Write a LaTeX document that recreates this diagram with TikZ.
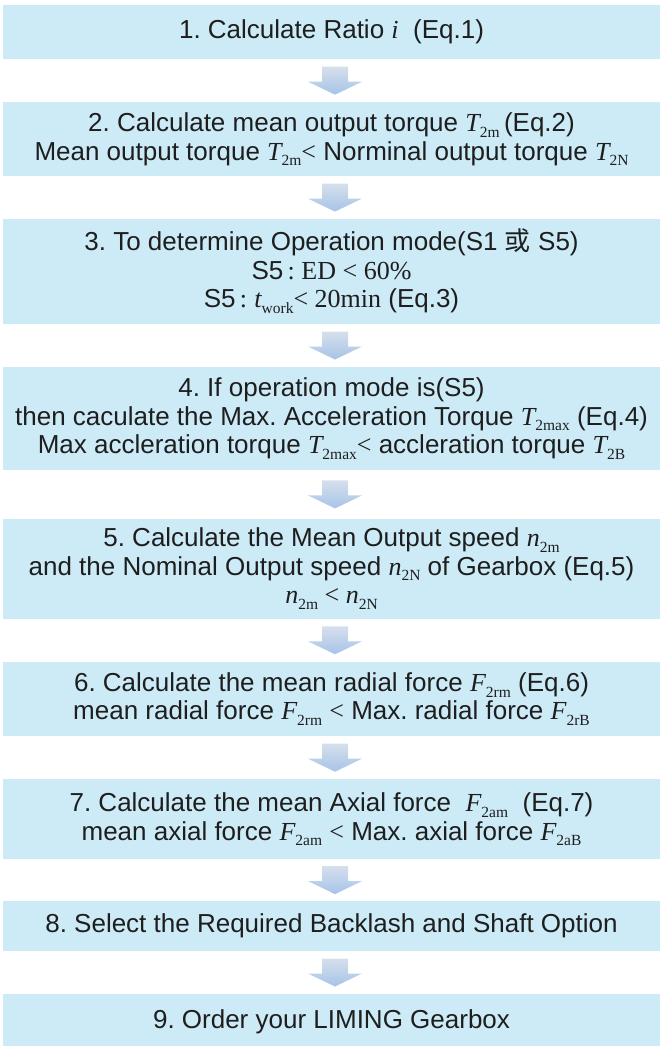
\documentclass[tikz,border=0pt]{standalone}
\usepackage{fontspec}
\setmainfont{Liberation Serif}
\setsansfont{Liberation Sans}
\newfontfamily\cjk{Noto Sans CJK SC}
\usepackage{tikz}
\usetikzlibrary{positioning,calc}
\frenchspacing

\definecolor{boxblue}{RGB}{205,235,247}
\definecolor{arrtop}{RGB}{214,223,236}
\definecolor{arrbot}{RGB}{166,196,232}
\definecolor{txt}{RGB}{30,30,30}

% variable with upright subscript, set in the serif face
\newcommand{\qsym}[2]{{\rmfamily\itshape #1}\raisebox{-0.22em}{\rmfamily\fontsize{15.5}{15.5}\selectfont #2}}
\newcommand{\rmtxt}[1]{{\rmfamily #1}}
\newcommand{\flowarrow}[2]{%
    \path let \p1=(#1.south), \p2=(#2.north) in (\x1+3.5pt,{0.5*(\y1+\y2)}) coordinate (am);
    \shade[arrowshade] (am) ++(-13,14) -- ++(26,0) -- ++(0,-15) -- ++(14,0)
        -- ++(-27,-13) -- ++(-27,13) -- ++(14,0) -- cycle;
}

\begin{document}
\begin{tikzpicture}[x=1pt,y=1pt,
    stage/.style={fill=boxblue,minimum width=657pt,minimum height=#1,inner sep=0pt,
        align=center,text=txt,font=\sffamily\fontsize{26}{28.5}\selectfont},
    stage/.default=54pt,
    arrowshade/.style={top color=arrtop,bottom color=arrbot}]
    \useasboundingbox (0,0) rectangle (660,-1046);

    \node[stage=54pt] (s1) at (331.5,-32) {1. Calculate Ratio \rmtxt{\itshape i}\ \ (Eq.1)};
    \node[stage=74pt,below=43pt of s1] (s2) {2. Calculate mean output torque \qsym{T}{2m}\,(Eq.2)\\
        Mean output torque \qsym{T}{2m}\rmtxt{<} Norminal output torque \qsym{T}{2N}};
    \node[stage=105pt,below=42pt of s2] (s3) {3. To determine Operation mode(S1 {\cjk 或} S5)\\
        S5\,\rmtxt{: ED < 60\%}\\
        S5\,\rmtxt{:} \qsym{t}{work}\rmtxt{< 20min} (Eq.3)};
    \node[stage=103pt,below=43pt of s3] (s4) {4. If operation mode is(S5)\\
        then caculate the Max. Acceleration Torque \qsym{T}{2max} (Eq.4)\\
        Max accleration torque \qsym{T}{2max}\rmtxt{<} accleration torque \qsym{T}{2B}};
    \node[stage=100pt,below=48pt of s4] (s5) {5. Calculate the Mean Output speed \qsym{n}{2m}\\
        and the Nominal Output speed \qsym{n}{2N} of Gearbox (Eq.5)\\
        \qsym{n}{2m}\rmtxt{ < }\qsym{n}{2N}};
    \node[stage=74pt,below=43pt of s5] (s6) {6. Calculate the mean radial force \qsym{F}{2rm} (Eq.6)\\
        mean radial force \qsym{F}{2rm} \rmtxt{<} Max. radial force \qsym{F}{2rB}};
    \node[stage=80pt,below=43pt of s6] (s7) {7. Calculate the mean Axial force\ \ \qsym{F}{2am}\ \ (Eq.7)\\
        mean axial force \qsym{F}{2am} \rmtxt{<} Max. axial force \qsym{F}{2aB}};
    \node[stage=50pt,below=41pt of s7] (s8) {8. Select the Required Backlash and Shaft Option};
    \node[stage=55pt,below=43pt of s8] (s9) {9. Order your LIMING Gearbox};

    \flowarrow{s1}{s2}
    \flowarrow{s2}{s3}
    \flowarrow{s3}{s4}
    \flowarrow{s4}{s5}
    \flowarrow{s5}{s6}
    \flowarrow{s6}{s7}
    \flowarrow{s7}{s8}
    \flowarrow{s8}{s9}
\end{tikzpicture}
\end{document}
